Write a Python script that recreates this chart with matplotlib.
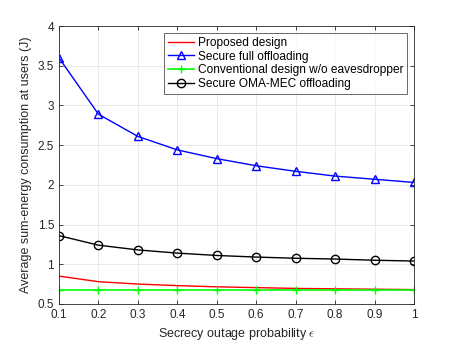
import matplotlib
matplotlib.use("Agg")
import matplotlib.pyplot as plt

plt.rcParams['font.family'] = ['Liberation Sans', 'DejaVu Sans']
plt.rcParams['mathtext.fontset'] = 'cm'

eps = [0.1, 0.2, 0.3, 0.4, 0.5, 0.6, 0.7, 0.8, 0.9, 1.0]
proposed = [0.85, 0.78, 0.75, 0.73, 0.715, 0.705, 0.695, 0.69, 0.685, 0.68]
full_off = [3.60, 2.89, 2.61, 2.44, 2.33, 2.24, 2.17, 2.11, 2.07, 2.03]
conventional = [0.68, 0.68, 0.68, 0.68, 0.68, 0.68, 0.68, 0.68, 0.68, 0.68]
oma = [1.36, 1.24, 1.18, 1.14, 1.11, 1.09, 1.075, 1.065, 1.05, 1.04]

xticks = [0.1, 0.2, 0.3, 0.4, 0.5, 0.6, 0.7, 0.8, 0.9, 1]
yticks = [0.5, 1, 1.5, 2, 2.5, 3, 3.5, 4]

fig = plt.figure(figsize=(4.57, 3.43), dpi=100)
ax = fig.add_axes([0.129, 0.114, 0.777, 0.81])

ax.plot(eps, proposed, color='red', lw=1.0, label='Proposed design')
ax.plot(eps, full_off, color='blue', lw=1.0, marker='^', ms=6, mfc='none', mew=1.0,
        label='Secure full offloading')
ax.plot(eps, conventional, color='#00ff00', lw=1.2, marker='+', ms=6, mew=1.0,
        label='Conventional design w/o eavesdropper')
ax.plot(eps, oma, color='black', lw=1.0, marker='o', ms=6, mfc='none', mew=1.0,
        label='Secure OMA-MEC offloading')

ax.set_xlim(0.1, 1)
ax.set_ylim(0.5, 4)
ax.set_xticks(xticks)
ax.set_xticklabels([f'{t:g}' for t in xticks])
ax.set_yticks(yticks)
ax.set_yticklabels([f'{t:g}' for t in yticks])
ax.grid(True, color='#e6e6e6', lw=0.6)
ax.set_axisbelow(True)
for s in ax.spines.values():
    s.set_color('#262626')
    s.set_linewidth(0.6)
ax.tick_params(labelsize=8.5, direction='in', length=3, width=0.6, colors='#262626',
               top=True, right=True)
ax.set_xlabel(r'Secrecy outage probability $\epsilon$', fontsize=9, color='#262626')
ax.set_ylabel('Average sum-energy consumption at users (J)', fontsize=9, color='#262626')

leg = ax.legend(loc='upper right', fontsize=8.6, frameon=True, fancybox=False,
                edgecolor='#262626', handlelength=2.2, handletextpad=0.3,
                borderpad=0.3, labelspacing=0.15, borderaxespad=0.6)
leg.get_frame().set_linewidth(0.6)

fig.savefig('out.png', dpi=100)
